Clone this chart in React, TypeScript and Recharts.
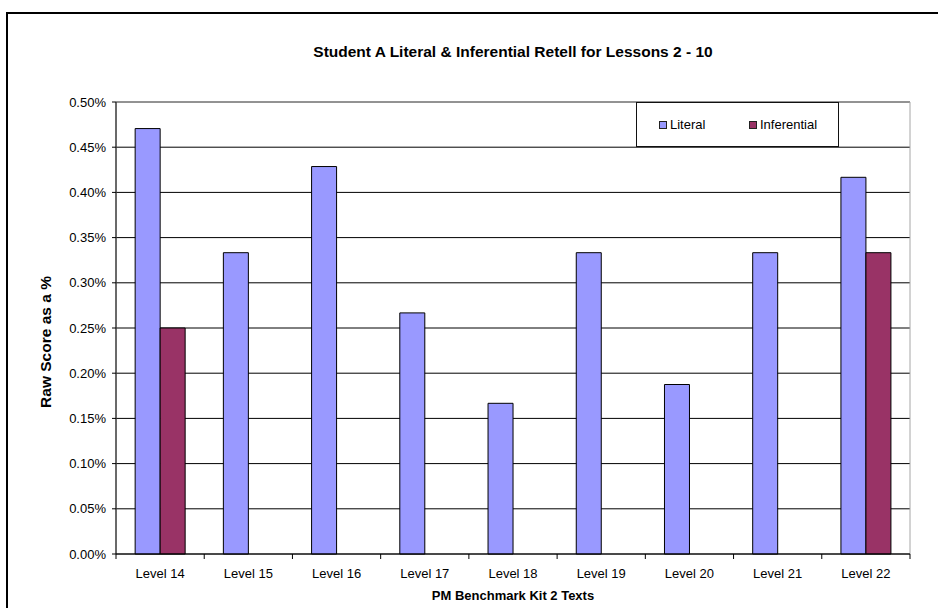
import React from 'react';
import { BarChart, Bar, XAxis, YAxis, CartesianGrid, Legend, ReferenceArea } from 'recharts';

// Retell scores per PM Benchmark level (values in %)
const levels = ['Level 14', 'Level 15', 'Level 16', 'Level 17', 'Level 18', 'Level 19', 'Level 20', 'Level 21', 'Level 22'];
const literal = [0.4706, 0.3333, 0.4286, 0.2667, 0.1667, 0.3333, 0.1875, 0.3333, 0.4167];
const inferential = [0.25, 0, 0, 0, 0, 0, 0, 0, 0.3333];
const yTicks = [0, 0.05, 0.1, 0.15, 0.2, 0.25, 0.3, 0.35, 0.4, 0.45, 0.5];
const seriesOrder = ['literal', 'inferential'];

const rows = levels.map((level, i) => ({ level, literal: literal[i], inferential: inferential[i] }));

const FONT = '"Liberation Sans", Arial, sans-serif';
const LITERAL = '#9999FF';
const INFERENTIAL = '#993366';

// Excel-style category ticks: marks sit on the band edges, labels in the middle
function LevelTick(props: any) {
  const { x, y, payload, index, visibleTicksCount, width } = props;
  const half = payload?.offset ?? width / (2 * visibleTicksCount);
  const last = index === visibleTicksCount - 1;
  return (
    <g>
      <line x1={x - half} x2={x - half} y1={y} y2={y + 5} stroke="#000" />
      {last && <line x1={x + half} x2={x + half} y1={y} y2={y + 5} stroke="#000" />}
      <text x={x} y={y + 24} textAnchor="middle" fontFamily={FONT} fontSize={13} fill="#000">
        {payload.value}
      </text>
    </g>
  );
}

function LegendBox({ payload }: any) {
  const items = [...(payload ?? [])].sort(
    (a: any, b: any) => seriesOrder.indexOf(a.dataKey) - seriesOrder.indexOf(b.dataKey),
  );
  return (
    <div
      style={{
        boxSizing: 'border-box',
        width: 203,
        height: 45,
        border: '1px solid #111',
        background: '#fff',
        display: 'flex',
        alignItems: 'center',
        paddingLeft: 22,
        fontFamily: FONT,
        fontSize: 13,
        color: '#000',
      }}
    >
      {items.map((item: any, i: number) => (
        <div key={item.value} style={{ display: 'flex', alignItems: 'center', width: i === 0 ? 90 : undefined }}>
          <span
            style={{
              display: 'inline-block',
              boxSizing: 'border-box',
              width: 8,
              height: 8,
              border: '1px solid #222',
              background: item.color,
              marginRight: 3,
            }}
          />
          <span>{item.value}</span>
        </div>
      ))}
    </div>
  );
}

export default function App() {
  return (
    <div style={{ position: 'absolute', left: 0, top: 0, width: 938, height: 608, overflow: 'hidden', background: '#fff' }}>
      <div
        style={{
          position: 'absolute',
          left: 6,
          top: 12,
          width: 980,
          height: 640,
          borderLeft: '2px solid #000',
          borderTop: '2px solid #000',
        }}
      />
      <div
        style={{
          position: 'absolute',
          left: 116,
          top: 43,
          width: 794,
          lineHeight: '18px',
          textAlign: 'center',
          fontFamily: FONT,
          fontWeight: 'bold',
          fontSize: 15.5,
        }}
      >
        Student A Literal &amp; Inferential Retell for Lessons 2 - 10
      </div>
      <div style={{ position: 'absolute', left: 0, top: 0 }}>
        <BarChart
          width={938}
          height={608}
          data={rows}
          margin={{ top: 102, right: 28, bottom: 0, left: 0 }}
          barCategoryGap="21.7%"
          barGap={0}
        >
          <CartesianGrid vertical={false} stroke="#000" />
          <ReferenceArea y1={0} y2={0.5} fill="none" stroke="#a6a6a6" ifOverflow="visible" />
          <XAxis
            dataKey="level"
            height={54}
            stroke="#000"
            tickLine={false}
            tickSize={0}
            tickMargin={0}
            interval={0}
            tick={<LevelTick />}
            label={{
              content: ({ viewBox }: any) => (
                <text
                  x={viewBox.x + viewBox.width / 2}
                  y={viewBox.y + 46}
                  textAnchor="middle"
                  fontFamily={FONT}
                  fontSize={13}
                  fontWeight="bold"
                  fill="#000"
                >
                  PM Benchmark Kit 2 Texts
                </text>
              ),
            }}
          />
          <YAxis
            width={116}
            domain={[0, 0.5]}
            ticks={yTicks}
            interval={0}
            stroke="#000"
            tickSize={4}
            tickMargin={6}
            tick={{ fontFamily: FONT, fontSize: 13, fill: '#000' }}
            tickFormatter={(v: number) => `${v.toFixed(2)}%`}
            label={{
              content: ({ viewBox }: any) => {
                const cx = viewBox.x + 51;
                const cy = viewBox.y + viewBox.height / 2 + 14;
                return (
                  <text
                    x={cx}
                    y={cy}
                    transform={`rotate(-90, ${cx}, ${cy})`}
                    textAnchor="middle"
                    fontFamily={FONT}
                    fontSize={15.5}
                    fontWeight="bold"
                    fill="#000"
                  >
                    Raw Score as a %
                  </text>
                );
              },
            }}
          />
          <Legend
            layout="vertical"
            align="center"
            verticalAlign="middle"
            content={<LegendBox />}
            wrapperStyle={{ position: 'absolute', top: 102, left: 636, width: 203, height: 45 }}
          />
          <Bar dataKey="literal" name="Literal" fill={LITERAL} stroke="#000" strokeWidth={1} isAnimationActive={false} />
          <Bar dataKey="inferential" name="Inferential" fill={INFERENTIAL} stroke="#000" strokeWidth={1} isAnimationActive={false} />
        </BarChart>
      </div>
    </div>
  );
}
